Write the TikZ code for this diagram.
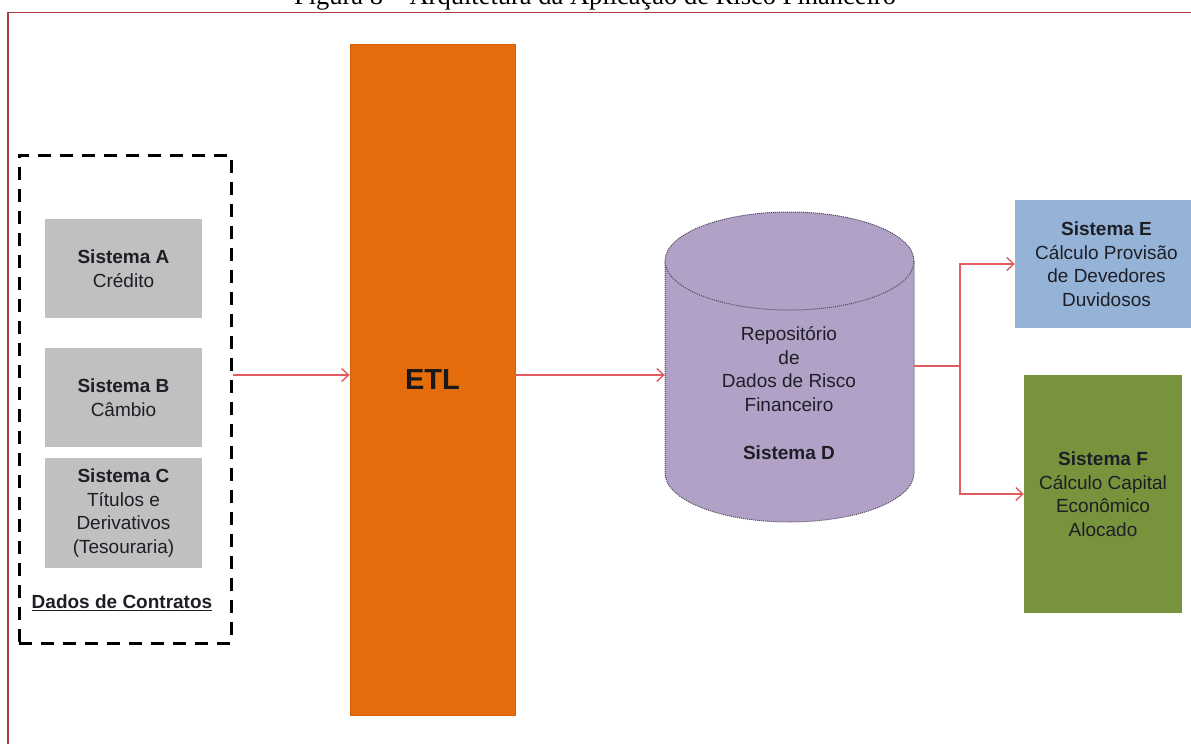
\documentclass[tikz,border=0pt]{standalone}
\usepackage{fontspec}
\setmainfont{Liberation Sans}
\newfontfamily\capfont{Liberation Serif}
\usetikzlibrary{arrows.meta}

\definecolor{framecol}{HTML}{A8403F}
\definecolor{linkcol}{HTML}{E15B5F}
\definecolor{srcfill}{HTML}{C0C0C0}
\definecolor{etlfill}{HTML}{E46C0A}
\definecolor{etledge}{HTML}{D0600A}
\definecolor{repofill}{HTML}{B2A1C7}
\definecolor{repoedge}{HTML}{4E4A5C}
\definecolor{efill}{HTML}{95B3D7}
\definecolor{ffill}{HTML}{77933C}
\definecolor{txt}{HTML}{1E1E26}

\tikzset{
  body/.style={font=\fontsize{19}{23.5}\selectfont, text=txt, align=center},
  srcbox/.style={body, fill=srcfill, minimum width=157, minimum height=99, inner sep=0},
  sysbox/.style={body, minimum width=158, inner sep=0},
  link/.style={draw=linkcol, line width=1.4, -{Straight Barb[length=7pt,width=13pt,line width=1.4]}},
  plainlink/.style={draw=linkcol, line width=1.4},
}

\begin{document}
\begin{tikzpicture}[x=1pt, y=-1pt]
\useasboundingbox (0,0) rectangle (1191,744);
\clip (0,0) rectangle (1191,744);

% caption line above the framed figure
\node[font=\capfont\fontsize{26.5}{30}\selectfont, anchor=base, inner sep=0] (cap) at (595,5)
  {Figura 8 – Arquitetura da Aplicação de Risco Financeiro};

% frame around the figure
\draw[framecol, line width=1.8] (1210,12.5) -- (8,12.5) -- (8,760);

% source systems group
\node[draw=black, line width=3, dash pattern=on 13pt off 9pt,
      minimum width=212, minimum height=488, inner sep=0] (grp) at (125,399) {};
\node[srcbox] (sa) at (123.5,268.5) {\textbf{Sistema A}\\Crédito};
\node[srcbox] (sb) at (123.5,397.5) {\textbf{Sistema B}\\Câmbio};
\node[srcbox, minimum height=110] (sc) at (123.5,513)
  {\textbf{Sistema C}\\Títulos e\\Derivativos\\(Tesouraria)};
\node[body, font=\bfseries\fontsize{19}{23.5}\selectfont] (dc) at (122,603)
  {\underline{Dados de Contratos}};

% ETL bar
\node[fill=etlfill, draw=etledge, line width=0.8, minimum width=165, minimum height=671,
      inner sep=0, font=\bfseries\fontsize{29}{32}\selectfont, text=black!90] (etl) at (432.5,379.5) {ETL};

% repository cylinder
\node[minimum width=249, minimum height=310, inner sep=0] (repo) at (789.5,367) {};
\fill[repofill] (665,261) -- (665,473) arc[start angle=180, end angle=0, x radius=124.5, y radius=49]
  -- (914,261) arc[start angle=0, end angle=-180, x radius=124.5, y radius=49] -- cycle;
\draw[repoedge, line width=1, densely dotted] (665,261) -- (665,473)
  arc[start angle=180, end angle=0, x radius=124.5, y radius=49] -- (914,261);
\draw[repoedge, line width=1, densely dotted, fill=repofill] (789.5,261) ellipse [x radius=124.5, y radius=49];
\node[body] (repotext) at (789,393)
  {Repositório\\de\\Dados de Risco\\Financeiro\\[24.5pt]\textbf{Sistema D}};

% target systems
\node[sysbox, fill=efill, minimum width=183, minimum height=128] (se) at (1106.5,264)
  {\textbf{Sistema E}\\Cálculo Provisão\\de Devedores\\Duvidosos};
\node[sysbox, fill=ffill, minimum height=238] (sf) at (1103,494)
  {\textbf{Sistema F}\\Cálculo Capital\\Econômico\\Alocado};

% connectors
\coordinate (lvl) at (0,375);
\coordinate (br) at (960,366);
\draw[link] (grp.east |- lvl) -- (etl.west |- lvl);
\draw[link] (etl.east |- lvl) -- (repo.west |- lvl);
\draw[plainlink] (repo.east |- br) -- (br);
\draw[link] (br) |- (se.west);
\draw[link] (br) |- (sf.west);
\end{tikzpicture}
\end{document}
